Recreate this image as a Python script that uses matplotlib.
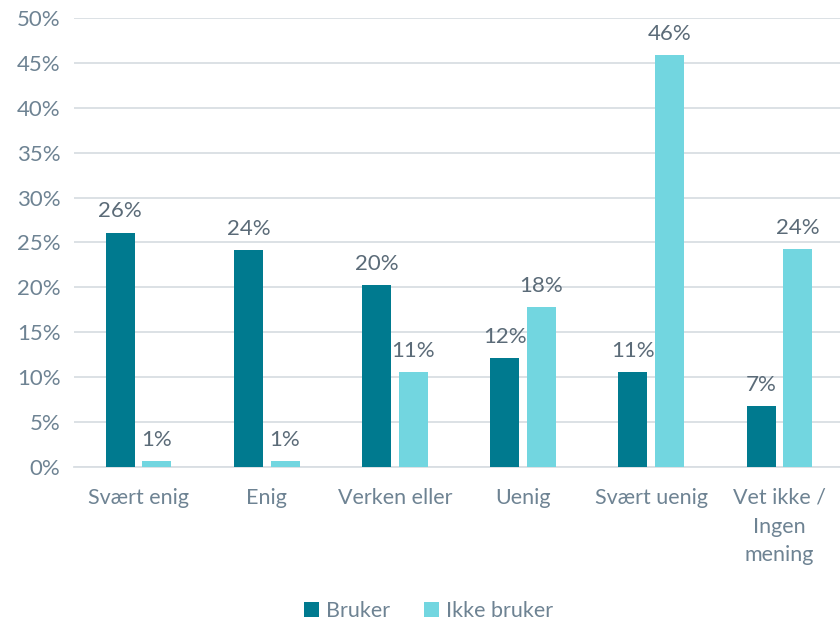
import matplotlib.pyplot as plt
import numpy as np

categories = ["Svært enig", "Enig", "Verken eller", "Uenig", "Svært uenig", "Vet ikke /\nIngen\nmening"]
bruker = [26.1, 24.2, 20.3, 12.1, 10.6, 6.8]
ikke_bruker = [0.7, 0.7, 10.6, 17.8, 45.9, 24.3]
series_names = ["Bruker", "Ikke bruker"]

dark = "#007A8F"
light = "#72D6E0"
tick_col = "#6E8393"
label_col = "#5B6B78"

plt.rcParams['font.family'] = ['Lato', 'DejaVu Sans']

fig = plt.figure(figsize=(8.4, 6.2), dpi=100)
ax = fig.add_axes([0.0886, 0.2468, 0.9157, 0.7242])

x = np.arange(len(categories))
w = 0.226
gap = 0.06
b1 = ax.bar(x - (w + gap) / 2, bruker, w, color=dark, label=series_names[0], zorder=3)
b2 = ax.bar(x + (w + gap) / 2, ikke_bruker, w, color=light, label=series_names[1], zorder=3)

for bars, vals in ((b1, bruker), (b2, ikke_bruker)):
    for rect, v in zip(bars, vals):
        ax.annotate(f"{int(v + 0.5)}%", (rect.get_x() + rect.get_width() / 2, v),
                    xytext=(0, 8), textcoords="offset points", ha="center", va="bottom",
                    fontsize=16, color=label_col)

ax.set_xlim(-0.5, len(categories) - 0.5)
ax.set_ylim(0, 50)
ax.set_yticks(range(0, 51, 5))
ax.set_yticklabels([f"{t}%" for t in range(0, 51, 5)])
ax.set_xticks(x)
ax.set_xticklabels(categories, linespacing=1.55)
ax.tick_params(axis="both", length=0, colors=tick_col)
ax.tick_params(axis="x", pad=15, labelsize=15.5)
ax.tick_params(axis="y", pad=10, labelsize=16)
ax.yaxis.grid(True, color="#D9DEE3", linewidth=1.3, zorder=0)
for s in ["top", "right", "left"]:
    ax.spines[s].set_visible(False)
ax.spines["bottom"].set_color("#D9DEE3")
ax.spines["bottom"].set_linewidth(1.3)

leg = fig.legend(loc="center", bbox_to_anchor=(0.51, 0.014), ncol=2, frameon=False,
                 fontsize=15.5, handlelength=0.7, handleheight=0.7, handletextpad=0.3,
                 columnspacing=1.6)
for t in leg.get_texts():
    t.set_color(tick_col)

fig.savefig("out.png", dpi=100)
